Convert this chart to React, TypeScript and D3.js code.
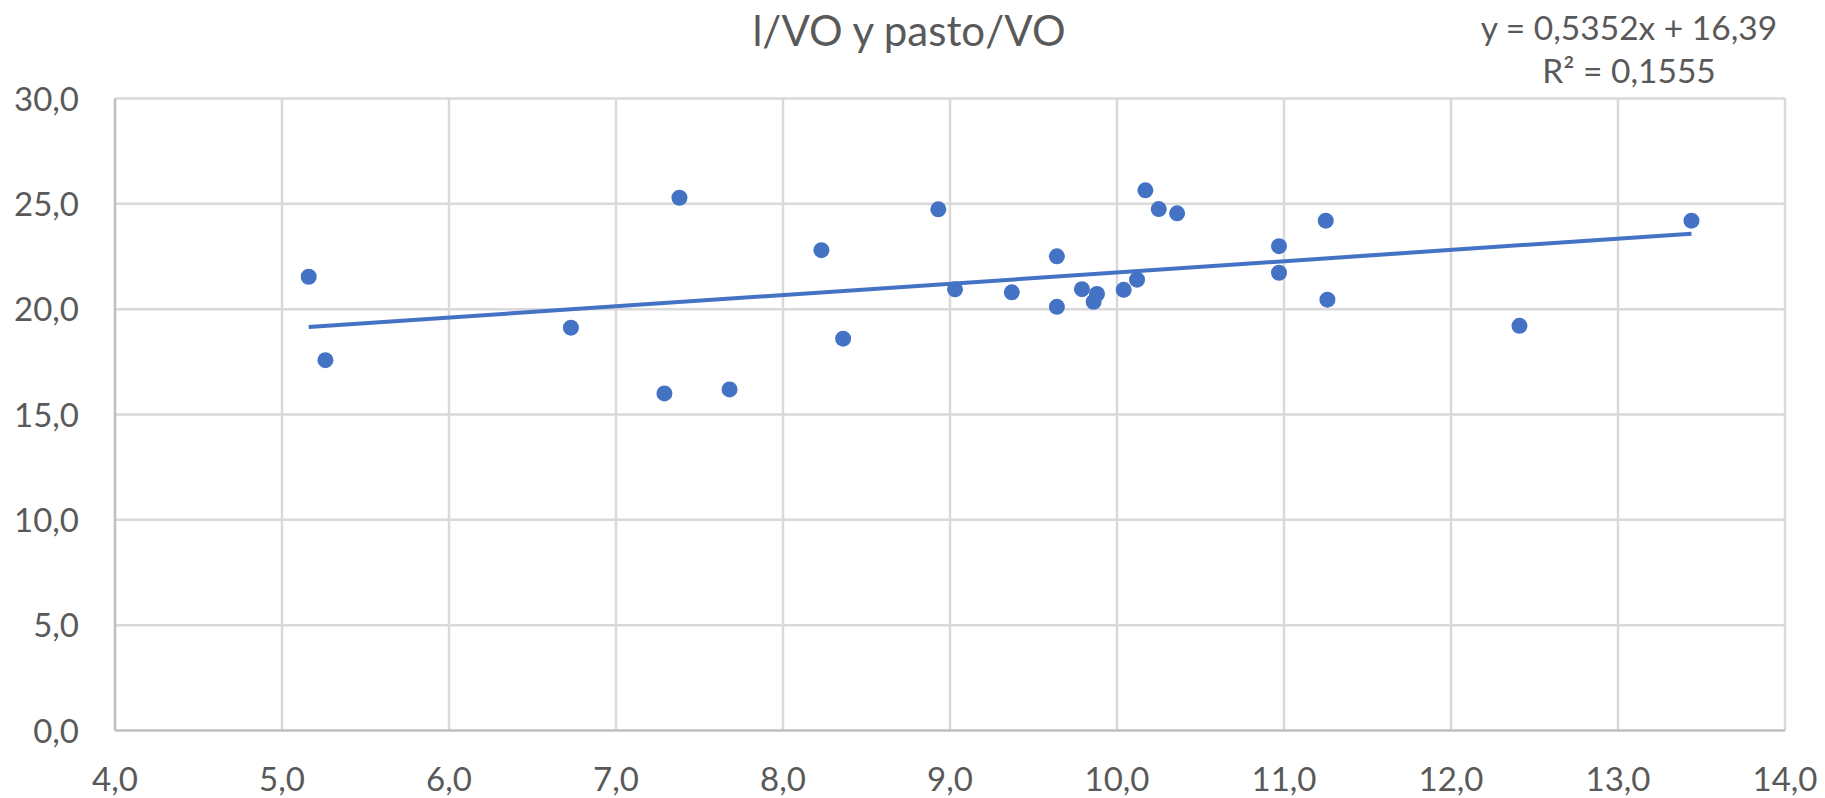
import * as d3 from "d3";
import { useEffect } from "react";

const TITLE = "l/VO y pasto/VO";
const EQUATION = "y = 0,5352x + 16,39";
const R_SQUARED = "R² = 0,1555";

// fitted trend line coefficients (from the equation label)
const SLOPE = 0.5352;
const INTERCEPT = 16.39;

const xValues = [
  5.16, 5.26, 6.73, 7.29, 7.38, 7.68, 8.23, 8.36, 8.93, 9.03, 9.37, 9.64, 9.64, 9.79,
  9.86, 9.88, 10.04, 10.12, 10.17, 10.25, 10.36, 10.97, 10.97, 11.25, 11.26, 12.41, 13.44,
];
const yValues = [
  21.54, 17.58, 19.12, 16.0, 25.29, 16.19, 22.8, 18.6, 24.74, 20.94, 20.8, 22.51, 20.11, 20.95,
  20.35, 20.72, 20.92, 21.4, 25.64, 24.75, 24.55, 22.99, 21.73, 24.2, 20.45, 19.21, 24.2,
];

const xTicks = [4, 5, 6, 7, 8, 9, 10, 11, 12, 13, 14];
const yTicks = [0, 5, 10, 15, 20, 25, 30];

const W = 1825;
const H = 798;
const FONT = "Lato, 'Open Sans', sans-serif";
const TEXT = "#595959";
const BLUE = "#4472C4";

const fmt = (v: number) => v.toFixed(1).replace(".", ",");

export default function App() {
  useEffect(() => {
    document.body.style.margin = "0";
  }, []);

  const x = d3.scaleLinear().domain([4, 14]).range([115, 1785]);
  const y = d3.scaleLinear().domain([0, 30]).range([730.5, 98.5]);

  const points = xValues.map((v, i) => ({ x: v, y: yValues[i] }));
  const [xMin, xMax] = d3.extent(xValues) as [number, number];
  const trend = d3
    .line<number>()
    .x((d) => x(d))
    .y((d) => y(SLOPE * d + INTERCEPT))([xMin, xMax]);

  return (
    <svg width={W} height={H} style={{ display: "block", background: "#fff" }}>
      {/* grid */}
      {yTicks.slice(1).map((t) => (
        <line key={"gy" + t} x1={x(4)} x2={x(14)} y1={y(t)} y2={y(t)} stroke="#d9d9d9" strokeWidth={2.5} />
      ))}
      {xTicks.slice(1).map((t) => (
        <line key={"gx" + t} x1={x(t)} x2={x(t)} y1={y(0)} y2={y(30)} stroke="#d9d9d9" strokeWidth={2.5} />
      ))}
      {/* axes */}
      <line x1={x(4)} x2={x(4)} y1={y(0)} y2={y(30)} stroke="#bfbfbf" strokeWidth={2.5} />
      <line x1={x(4)} x2={x(14)} y1={y(0)} y2={y(0)} stroke="#bfbfbf" strokeWidth={2.5} />

      {/* tick labels */}
      {yTicks.map((t) => (
        <text key={"ly" + t} x={79} y={y(t) + 12} textAnchor="end" fill={TEXT} fontFamily={FONT} fontSize={33}>
          {fmt(t)}
        </text>
      ))}
      {xTicks.map((t) => (
        <text key={"lx" + t} x={x(t)} y={791} textAnchor="middle" fill={TEXT} fontFamily={FONT} fontSize={33}>
          {fmt(t)}
        </text>
      ))}

      {/* trend line */}
      <path d={trend ?? ""} fill="none" stroke={BLUE} strokeWidth={4} />

      {/* points */}
      {points.map((p, i) => (
        <circle key={i} cx={x(p.x)} cy={y(p.y)} r={8} fill={BLUE} />
      ))}

      {/* title */}
      <text x={909} y={46} textAnchor="middle" fill={TEXT} fontFamily={FONT} fontSize={42}>
        {TITLE}
      </text>

      {/* equation */}
      <text x={1629} y={39.5} textAnchor="middle" fill={TEXT} fontFamily={FONT} fontSize={33.5}>
        {EQUATION}
      </text>
      <text x={1629} y={82.5} textAnchor="middle" fill={TEXT} fontFamily={FONT} fontSize={33.5}>
        {R_SQUARED}
      </text>
    </svg>
  );
}
